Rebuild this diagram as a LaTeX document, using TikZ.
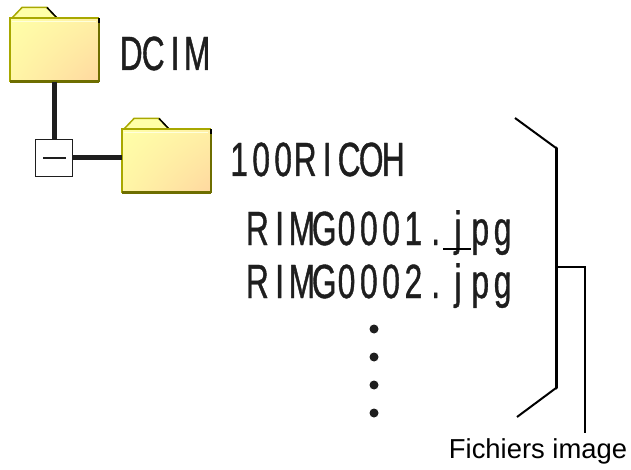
\documentclass[tikz,border=0pt]{standalone}
\usepackage{fontspec}
\usepackage{tikz}
\usetikzlibrary{calc,shadings}
\setmainfont{Liberation Sans}
\newfontfamily\gothicfont[FakeStretch=.66,FakeBold=.8]{Liberation Sans}
\definecolor{folderedge}{HTML}{A8A800}
\definecolor{folderdark}{HTML}{6E6E00}
\definecolor{foldertop}{HTML}{FFFFA8}
\definecolor{folderpeach}{HTML}{FFD8A0}
\definecolor{inkgray}{HTML}{1E1E1E}
\makeatletter
\newcommand\celltext[2]{{\gothicfont\fontsize{48}{48}\selectfont\@tfor\next:=#2\do{\makebox[#1pt]{\next}}}}
\makeatother
\newcommand\folder[3]{%
    \fill [foldertop, draw=folderedge, line width=1.5pt] (#2+2,#3) -- (#2+12,#3-10.5) -- (#2+37,#3-10.5) -- (#2+47,#3) -- cycle;
    \draw [black, line width=1.5pt] (#2+37,#3-10.5) -- (#2+47,#3);
    \node [folderbody] (#1) at (#2+44.5,#3+32) {};
    \draw [white!60!foldertop, line width=1.5pt] (#1.north west) ++(2,3) -- ++(84,0);
    \draw [folderedge, line width=2pt] (#1.south west) -- (#1.north west) -- (#1.north east);
    \draw [folderdark, line width=2pt] (#1.north east) -- (#1.south east);
    \draw [black, line width=2pt] (#1.north east) -- ++(0,5);
    \draw [folderdark, line width=3pt] (#1.south west) -- (#1.south east);
}
\tikzset{
    folderbody/.style={rectangle, minimum width=88pt, minimum height=63pt, inner sep=0pt, shade,
        upper left=foldertop, upper right=foldertop!60!folderpeach,
        lower left=foldertop!75!folderpeach, lower right=folderpeach},
    treeline/.style={inkgray, line width=5pt},
    bracket/.style={black, line width=2pt},
    filedot/.style={circle, fill=inkgray, inner sep=0pt, minimum size=9pt},
    gothic/.style={anchor=base west, inner sep=0pt, text=inkgray}
}
\begin{document}
\begin{tikzpicture}[x=1pt,y=-1pt]
            \useasboundingbox (0,0) rectangle (631,470);
            \folder{dcim}{10}{18}
            \folder{ricoh}{122}{129}
            \node [rectangle, draw=inkgray, fill=white, line width=1.5pt, minimum size=37pt, inner sep=0pt] (toggle) at (54,158) {};
            \node [rectangle, fill=inkgray, minimum width=23pt, minimum height=1.8pt, inner sep=0pt] (minus) at (toggle.center) {};
            \draw [treeline] (dcim.south -| toggle.north) -- (toggle.north);
            \draw [treeline] (toggle.east) -- (toggle.east -| ricoh.west);
            \node [gothic] (dcimlabel) at (120,70) {\celltext{22}{DCIM}};
            \node [gothic] (ricohlabel) at (228,176) {\celltext{22}{100RICOH}};
            \node [gothic] (fileone) at (246,245) {\celltext{22.3}{RIMG0001.jpg}};
            \node [gothic] (filetwo) at (246,298) {\celltext{22.3}{RIMG0002.jpg}};
            \coordinate (marka) at (443,249);
            \coordinate (markb) at (471,249);
            \draw [black, line width=1.5pt] (marka) -- (markb);
            \foreach \y/\name in {329/a,357/b,385/c,413/d}
                \node [filedot] (dot\name) at (374,\y) {};
            \coordinate (topend) at (515,118);
            \coordinate (topcorner) at (556,148);
            \coordinate (botcorner) at (556,388);
            \coordinate (botend) at (517,417);
            \coordinate (midpoint) at (556,267);
            \coordinate (midcorner) at (585,267);
            \coordinate (capend) at (585,433);
            \draw [bracket] (topend) -- (topcorner);
            \draw [bracket] (botend) -- (botcorner);
            \draw [black, line width=3pt, line cap=round] (topcorner) -- (botcorner);
            \draw [bracket] (midpoint) -- (midcorner) -- (capend);
            \node [anchor=base, inner sep=0pt, font=\fontsize{27.4}{27.4}\selectfont] (caption) at (538,458) {Fichiers image};
        \end{tikzpicture}
\end{document}
